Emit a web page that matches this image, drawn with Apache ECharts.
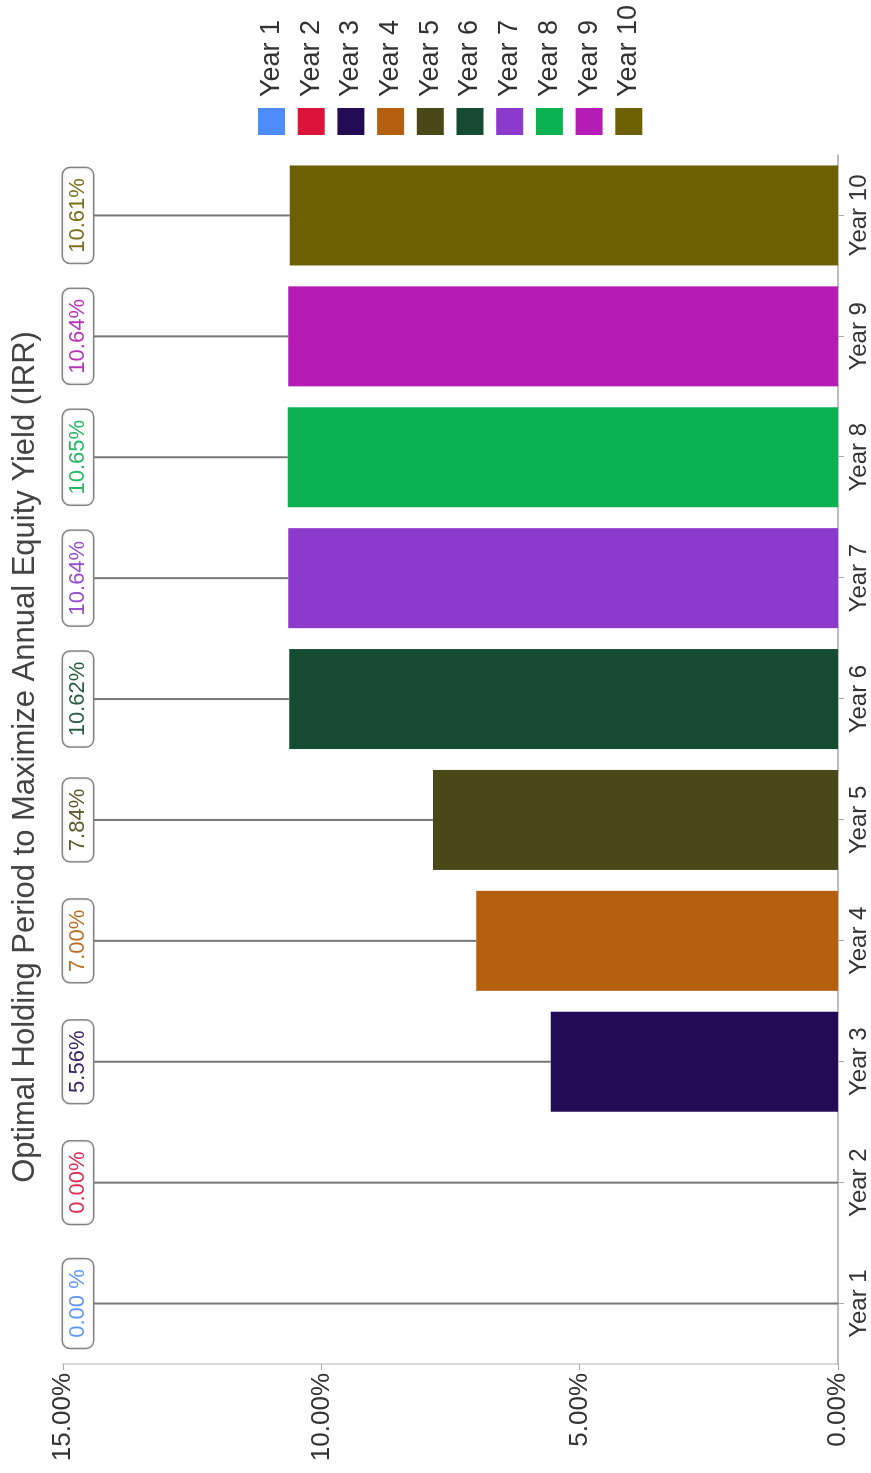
<!DOCTYPE html>
<html>
<head>
<meta charset="utf-8">
<script src="https://cdn.jsdelivr.net/npm/echarts@6/dist/echarts.min.js"></script>
<style>
  html, body { margin: 0; padding: 0; background: #fff; overflow: hidden; }
  #wrap { position: relative; width: 871px; height: 1473px; overflow: hidden; }
  #chart { position: absolute; left: 0; top: 0; width: 1473px; height: 871px;
           transform-origin: 0 0; transform: translate(0px, 1473px) rotate(-90deg); }
</style>
</head>
<body>
<div id="wrap"><div id="chart"></div></div>
<script>
const titleText = 'Optimal Holding Period to Maximize Annual Equity Yield (IRR)';
const categories = ['Year 1', 'Year 2', 'Year 3', 'Year 4', 'Year 5', 'Year 6', 'Year 7', 'Year 8', 'Year 9', 'Year 10'];
const values = [0, 0, 5.56, 7.00, 7.84, 10.62, 10.64, 10.65, 10.64, 10.61];
const labelTexts = ['0.00 %', '0.00%', '5.56%', '7.00%', '7.84%', '10.62%', '10.64%', '10.65%', '10.64%', '10.61%'];
const colors = ['#4e8cf9', '#dc143c', '#230b55', '#b5600e', '#4a4816', '#144b31', '#8b3acb', '#0cb152', '#b51bb5', '#6d6003'];
const axisMin = 0, axisMax = 15, axisStep = 5;

const FONT = '"Liberation Sans", Arial, Helvetica, sans-serif';
const chart = echarts.init(document.getElementById('chart'), null, { renderer: 'canvas', width: 1473, height: 871 });

const barSeries = categories.map((name, i) => ({
  name: name,
  type: 'bar',
  stack: 'all',
  barWidth: 100,
  itemStyle: { color: colors[i] },
  data: values.map((v, j) => (j === i ? v : '-')),
  z: 2
}));

const labelSeries = {
  type: 'custom',
  name: 'labels',
  silent: true,
  z: 5,
  data: values.map((v, i) => [i, v]),
  encode: { x: 0, y: 1 },
  renderItem: function (params, api) {
    const i = api.value(0);
    const v = api.value(1);
    const barTop = api.coord([i, v]);
    const gridTop = api.coord([i, axisMax]);
    const boxH = 31;
    return {
      type: 'group',
      children: [
        {
          type: 'line',
          shape: { x1: barTop[0], y1: gridTop[1] + boxH, x2: barTop[0], y2: barTop[1] },
          style: { stroke: '#777', lineWidth: 2 }
        },
        {
          type: 'text',
          x: barTop[0],
          y: gridTop[1],
          style: {
            text: labelTexts[i],
            align: 'center',
            verticalAlign: 'top',
            fill: colors[i],
            opacity: 0.9,
            font: '22px ' + FONT,
            backgroundColor: '#fff',
            borderColor: '#777',
            borderWidth: 1.5,
            borderRadius: 7,
            padding: [4, 10, 4, 10]
          }
        }
      ]
    };
  }
};

chart.setOption({
  animation: false,
  backgroundColor: '#fff',
  textStyle: { fontFamily: FONT },
  title: {
    text: titleText,
    left: 711,
    textAlign: 'center',
    top: 5,
    textStyle: { fontSize: 31, fontWeight: 'normal', color: '#444', fontFamily: FONT }
  },
  legend: {
    data: categories,
    orient: 'vertical',
    left: 1338,
    top: 258,
    itemWidth: 27,
    itemHeight: 27,
    itemGap: 12.7,
    icon: 'rect',
    padding: 0,
    textStyle: { fontSize: 27, color: '#333', fontFamily: FONT, lineHeight: 27, padding: [0, 0, 0, 6] }
  },
  grid: { left: 109, right: 155, top: 63, bottom: 33, containLabel: false },
  xAxis: {
    type: 'category',
    data: categories,
    axisLine: { show: true, lineStyle: { color: '#aaa', width: 1.5 } },
    axisTick: { show: true, alignWithLabel: true, length: 6, lineStyle: { color: '#aaa' } },
    axisLabel: { fontSize: 24, color: '#333', margin: 9, fontFamily: FONT }
  },
  yAxis: {
    type: 'value',
    min: axisMin,
    max: axisMax,
    interval: axisStep,
    axisLine: { show: true, lineStyle: { color: '#ccc', width: 1.5 } },
    axisTick: { show: true, length: 6, lineStyle: { color: '#aaa' } },
    splitLine: { show: false },
    axisLabel: { fontSize: 26, color: '#333', margin: 9, fontFamily: FONT,
      formatter: function (v) { return v.toFixed(2) + '%'; } }
  },
  series: barSeries.concat([labelSeries])
});
</script>
</body>
</html>
